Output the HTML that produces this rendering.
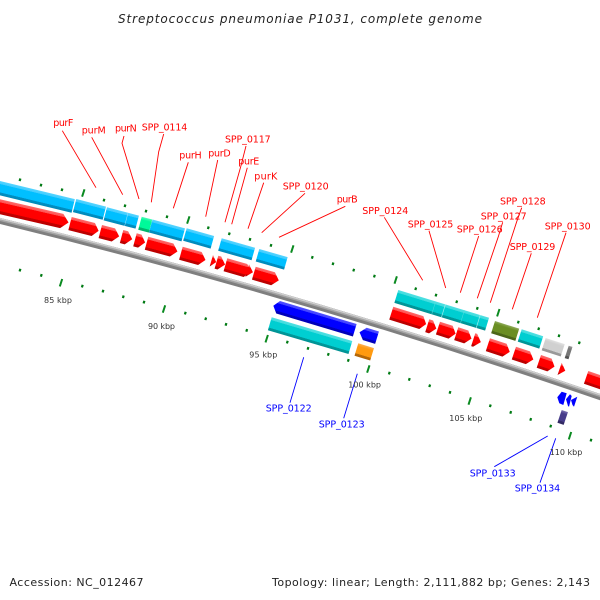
<!DOCTYPE html>
<html><head><meta charset="utf-8"><title>Streptococcus pneumoniae P1031</title>
<style>
html,body{margin:0;padding:0;background:#fff;width:600px;height:600px;overflow:hidden}
svg{display:block}
text{font-family:"DejaVu Sans","Liberation Sans",sans-serif}
.r text{fill:#f00;font-size:9.5px}
.b text{fill:#00f;font-size:9.5px}
.k text{fill:#333;font-size:8px}
.t text{fill:#222;font-size:11px}
</style></head><body>
<svg width="600" height="600" viewBox="0 0 600 600" xmlns="http://www.w3.org/2000/svg">
<defs>
<linearGradient id="red" x1="0" y1="0" x2="0" y2="1"><stop offset="0" stop-color="#ff6a6a"/><stop offset=".2" stop-color="#ff5050"/><stop offset=".22" stop-color="#f00"/><stop offset=".78" stop-color="#f00"/><stop offset=".8" stop-color="#c40000"/><stop offset="1" stop-color="#b80000"/></linearGradient>
<linearGradient id="sky" x1="0" y1="0" x2="0" y2="1"><stop offset="0" stop-color="#55d4ff"/><stop offset=".2" stop-color="#40ccff"/><stop offset=".22" stop-color="#00bfff"/><stop offset=".78" stop-color="#00bfff"/><stop offset=".8" stop-color="#0090c4"/><stop offset="1" stop-color="#0088b8"/></linearGradient>
<linearGradient id="cya" x1="0" y1="0" x2="0" y2="1"><stop offset="0" stop-color="#4fe0e2"/><stop offset=".2" stop-color="#40dcde"/><stop offset=".22" stop-color="#00ced1"/><stop offset=".78" stop-color="#00ced1"/><stop offset=".8" stop-color="#009a9c"/><stop offset="1" stop-color="#009092"/></linearGradient>
<linearGradient id="blu" x1="0" y1="0" x2="0" y2="1"><stop offset="0" stop-color="#5050ff"/><stop offset=".2" stop-color="#4040ff"/><stop offset=".22" stop-color="#00f"/><stop offset=".78" stop-color="#00f"/><stop offset=".8" stop-color="#0000c0"/><stop offset="1" stop-color="#0000b4"/></linearGradient>
<linearGradient id="grn" x1="0" y1="0" x2="0" y2="1"><stop offset="0" stop-color="#50fcb8"/><stop offset=".22" stop-color="#00fa9a"/><stop offset=".78" stop-color="#00fa9a"/><stop offset=".8" stop-color="#00b870"/><stop offset="1" stop-color="#00b068"/></linearGradient>
<linearGradient id="oli" x1="0" y1="0" x2="0" y2="1"><stop offset="0" stop-color="#90ac5c"/><stop offset=".22" stop-color="#6b8e23"/><stop offset=".78" stop-color="#6b8e23"/><stop offset=".8" stop-color="#4f6a1a"/><stop offset="1" stop-color="#4a6318"/></linearGradient>
<linearGradient id="org" x1="0" y1="0" x2="0" y2="1"><stop offset="0" stop-color="#ffb050"/><stop offset=".22" stop-color="#ff9a10"/><stop offset=".78" stop-color="#ff9a10"/><stop offset=".8" stop-color="#b86a08"/><stop offset="1" stop-color="#b06408"/></linearGradient>
<linearGradient id="lgr" x1="0" y1="0" x2="0" y2="1"><stop offset="0" stop-color="#e2e2e2"/><stop offset=".22" stop-color="#d0d0d0"/><stop offset=".78" stop-color="#d0d0d0"/><stop offset=".8" stop-color="#9c9c9c"/><stop offset="1" stop-color="#969696"/></linearGradient>
<linearGradient id="dgr" x1="0" y1="0" x2="0" y2="1"><stop offset="0" stop-color="#999"/><stop offset=".22" stop-color="#777"/><stop offset=".78" stop-color="#777"/><stop offset=".8" stop-color="#555"/><stop offset="1" stop-color="#505050"/></linearGradient>
<linearGradient id="pur" x1="0" y1="0" x2="0" y2="1"><stop offset="0" stop-color="#7a70b0"/><stop offset=".22" stop-color="#483d8b"/><stop offset=".78" stop-color="#483d8b"/><stop offset=".8" stop-color="#352c68"/><stop offset="1" stop-color="#302860"/></linearGradient>
</defs>

<!-- backbone -->
<path d="M-10 218.5Q300 293.7 610 400.5" fill="none" stroke="#7f7f7f" stroke-width="6"/>
<path d="M-10 217Q300 292.2 610 399" fill="none" stroke="#a5a5a5" stroke-width="3"/>
<path d="M-10 216.2Q300 291.4 610 398.2" fill="none" stroke="#cfcfcf" stroke-width="1.4"/>

<!-- ticks -->
<path fill="none" stroke="#007a14" stroke-width="2.2" d="M20.4 178.5l-.8 2.6M41.4 183.8l-.8 2.6M62.4 188.5l-.8 2.6M104.4 198.8l-.8 2.6M125.4 204.5l-.8 2.6M146.4 209.8l-.8 2.6M167.4 215.5l-.8 2.6M208.7 226.5l-.8 2.6M229.7 232.5l-.8 2.6M250.4 238.1l-.8 2.6M271.4 244.1l-.8 2.6M312.7 256.1l-.8 2.6M333.4 262.5l-.8 2.6M354.1 268.8l-.8 2.6M374.8 274.8l-.8 2.6M416.1 287.5l-.8 2.6M436.4 293.8l-.8 2.6M457.1 300.5l-.8 2.6M477.7 307.1l-.8 2.6M518.7 320.8l-.8 2.6M539.1 327.5l-.8 2.6M559.4 334.5l-.8 2.6M579.7 341.5l-.8 2.6M20.4 268.8l-.8 2.6M41.7 274.1l-.8 2.6M82.7 284.8l-.8 2.6M103.4 289.8l-.8 2.6M123.7 295.5l-.8 2.6M144.4 300.8l-.8 2.6M185.7 311.8l-.8 2.6M206.1 317.5l-.8 2.6M226.4 323.1l-.8 2.6M247.1 329.1l-.8 2.6M287.7 340.8l-.8 2.6M308.4 347.1l-.8 2.6M328.7 353.1l-.8 2.6M348.7 359.1l-.8 2.6M389.7 371.8l-.8 2.6M409.7 378.1l-.8 2.6M430.1 384.5l-.8 2.6M450.4 391.1l-.8 2.6M490.7 404.5l-.8 2.6M511.1 411.1l-.8 2.6M531.1 418.1l-.8 2.6M551.1 424.8l-.8 2.6M591.4 438.8l-.8 2.6"/>
<path fill="none" stroke="#0a8a20" stroke-width="2" d="M84.5 189.3l-2.4 7.4M189.5 216.3l-2.4 7.4M293.5 245.3l-2.4 7.4M396.9 276.3l-2.4 7.4M499.5 309l-2.4 7.4M62.2 279l-2.4 7.4M165.2 305.3l-2.4 7.4M267.9 335l-2.4 7.4M369.5 365.3l-2.4 7.4M470.9 397.3l-2.4 7.4M571.2 432l-2.4 7.4"/>

<!-- sky-blue row -->
<g transform="translate(-10 178.6) rotate(13.6)"><rect width="87.3" height="14" fill="url(#sky)"/></g>
<g transform="translate(76.3 199) rotate(14.5)"><rect width="30.7" height="13.5" fill="url(#sky)"/></g>
<g transform="translate(107 207.3) rotate(14.6)"><rect width="33" height="13.5" fill="url(#sky)"/><rect x="21.5" width=".5" height="13.5" fill="#9fe4ff"/></g>
<g transform="translate(141.7 216.7) rotate(15)"><rect width="11" height="13.5" fill="url(#grn)"/></g>
<g transform="translate(152.5 219.5) rotate(15.2)"><rect width="33.7" height="13.5" fill="url(#sky)"/></g>
<g transform="translate(186.7 228.3) rotate(15.8)"><rect width="28.5" height="13" fill="url(#sky)"/></g>
<g transform="translate(221.7 238.3) rotate(15.8)"><rect width="34.7" height="13" fill="url(#sky)"/></g>
<g transform="translate(259.3 249) rotate(16)"><rect width="29.5" height="13" fill="url(#sky)"/></g>

<!-- red row left -->
<g fill="url(#red)">
<polygon transform="translate(-10 196.9) rotate(13)" points="0,0 75.3,0 82.3,7.3 75.3,14.6 0,14.6"/>
<polygon transform="translate(71.7 217) rotate(14.4)" points="0,0 24,0 29.5,6.7 24,13.5 0,13.5"/>
<polygon transform="translate(102 225) rotate(14.6)" points="0,0 13.5,0 19.5,6.7 13.5,13.5 0,13.5"/>
<polygon transform="translate(123.3 230) rotate(14.8)" points="0,0 5,0 11,6.7 5,13.5 0,13.5"/>
<polygon transform="translate(136.7 233.3) rotate(15)" points="0,0 5,0 10.5,6.7 5,13.5 0,13.5"/>
<polygon transform="translate(148.3 236.7) rotate(15.1)" points="0,0 26,0 32,6.7 26,13.5 0,13.5"/>
<polygon transform="translate(182.7 246.7) rotate(15.5)" points="0,0 19.7,0 25.5,6.7 19.7,13.5 0,13.5"/>
<polygon transform="translate(213 255) rotate(16)" points="0,0 5,6 0,12"/>
<polygon transform="translate(218.3 255.7) rotate(16)" points="0,0 3,0 9,6.7 3,13.5 0,13.5"/>
<polygon transform="translate(227.3 258.3) rotate(16)" points="0,0 20.8,0 26.5,6.7 20.8,13.5 0,13.5"/>
<polygon transform="translate(249 264.3) rotate(16)" points="0,0 6,6.5 0,13"/>
<polygon transform="translate(255.7 266.7) rotate(16.2)" points="0,0 20,0 26,6.7 20,13.5 0,13.5"/>
</g>

<!-- lower strand left -->
<polygon transform="translate(280 301) rotate(16.7)" fill="url(#blu)" points="0,0 80,0 80,13 0,13 -5,6.5"/>
<polygon transform="translate(366.7 327.7) rotate(17)" fill="url(#blu)" points="0,0 12.8,0 12.8,13 0,13 -5.5,6.5"/>
<polygon transform="translate(271.7 317.3) rotate(16.4)" fill="url(#cya)" points="0,0 84,0 84,13.5 0,13.5"/>
<polygon transform="translate(358.3 343.3) rotate(17)" fill="url(#org)" points="0,0 16.4,0 16.4,13 0,13"/>

<!-- right cluster upper -->
<g transform="translate(398.3 290) rotate(17)"><rect width="94.9" height="13.5" fill="url(#cya)"/><rect x="38.8" width=".5" height="13.5" fill="#55dcde"/><rect x="48.9" width=".7" height="13.5" fill="#9eeeee"/><rect x="68.9" width=".5" height="13.5" fill="#55dcde"/><rect x="85.3" width=".7" height="13.5" fill="#9eeeee"/></g>
<polygon transform="translate(495 321) rotate(17.6)" fill="url(#oli)" points="0,0 25.4,0 25.4,12.8 0,12.8"/>
<polygon transform="translate(521.7 329.3) rotate(17.8)" fill="url(#cya)" points="0,0 22.6,0 22.6,13 0,13"/>
<polygon transform="translate(545.7 338) rotate(18)" fill="url(#lgr)" points="0,0 20,0 20,13 0,13"/>
<polygon transform="translate(568.7 345.7) rotate(18)" fill="url(#dgr)" points="0,0 4,0 4,13 0,13"/>

<!-- red row right -->
<g fill="url(#red)">
<polygon transform="translate(393.3 306.7) rotate(17.5)" points="0,0 31.5,0 36.5,6.7 31.5,13.5 0,13.5"/>
<polygon transform="translate(429.3 319.3) rotate(17.7)" points="0,0 4,0 9.5,6.7 4,13.5 0,13.5"/>
<polygon transform="translate(440 321.7) rotate(17.7)" points="0,0 13.3,0 18.5,6.7 13.3,13.5 0,13.5"/>
<polygon transform="translate(458.3 327.3) rotate(17.8)" points="0,0 10.5,0 16,6.7 10.5,13.5 0,13.5"/>
<polygon transform="translate(475.3 333.3) rotate(18)" points="0,0 2,0 8,6.7 2,13.5 0,13.5"/>
<polygon transform="translate(490 338.3) rotate(18.2)" points="0,0 17.5,0 23,6.7 17.5,13.5 0,13.5"/>
<polygon transform="translate(516 346.7) rotate(18.4)" points="0,0 14.8,0 20.5,6.7 14.8,13.5 0,13.5"/>
<polygon transform="translate(541 355) rotate(18.6)" points="0,0 11.2,0 16.5,6.7 11.2,13.5 0,13.5"/>
<polygon transform="translate(561.7 362.7) rotate(18.8)" points="0,0 6,6.5 0,13"/>
<polygon transform="translate(588.3 371) rotate(19)" points="0,0 20,0 26,6.7 20,13.5 0,13.5"/>
</g>

<!-- small lower right -->
<polygon fill="#00f" points="557.3,397.3 561.7,391.7 566.7,393.3 563.3,405 559.3,403.3"/>
<polygon fill="#00f" points="566,399.3 570,394.3 571.7,396 569,406.7 568,406"/>
<polygon fill="#00f" points="571,400 577.3,396.7 574,406.7 572.5,405"/>
<polygon transform="translate(561.7 410) rotate(18.5)" fill="url(#pur)" points="0,0 6.6,0 6.6,13.5 0,13.5"/>

<!-- red leaders -->
<path fill="none" stroke="#f00" stroke-width=".9" d="M62.3 130.7L96 187.7M91.7 137.3L122.7 194.7M124 136L122 143.3L139 199M163.7 134L158.7 151.7L151.3 202.3M188.3 162.3L173.3 208.3M217.7 160L205.7 216.7M246 146L240.7 166.7L225 222.3M247.3 167.7L231.7 224.3M263.7 182.7L248 228.7M305 193.3L261.7 232.7M345.3 206.3L279 237.3M384.3 217.3L422.7 280.3M429 230.7L445.7 288M478.7 236L460.3 292.7M502.7 222.3L498.3 236.7L477.3 298.3M521.7 207.7L516.7 221.7L490.3 302.7M531.3 253.3L512.3 309.3M566 232.7L537.3 317.7"/>
<!-- blue leaders -->
<path fill="none" stroke="#00f" stroke-width=".9" d="M303.7 357.3L290 402.7M357.3 373.7L343.7 418.3M547.7 436L494.3 466.7M555.7 438.3L540 482.7"/>

<!-- labels -->
<g class="r">
<text x="53.3" y="126" textLength="20">purF</text>
<text x="81.7" y="133.3" textLength="24">purM</text>
<text x="115" y="131.7" textLength="21.7">purN</text>
<text x="141.7" y="130.7" textLength="45.6">SPP_0114</text>
<text x="179.3" y="158.3" textLength="22.4">purH</text>
<text x="208.3" y="156.7" textLength="22.4">purD</text>
<text x="225" y="142.7" textLength="45.7">SPP_0117</text>
<text x="238.3" y="164.3" textLength="21">purE</text>
<text x="254.3" y="179.3" textLength="23">purK</text>
<text x="282.7" y="189.3" textLength="46">SPP_0120</text>
<text x="336.7" y="202.3" textLength="21">purB</text>
<text x="362.3" y="214" textLength="46">SPP_0124</text>
<text x="407.7" y="227.7" textLength="45.6">SPP_0125</text>
<text x="456.7" y="232.7" textLength="46">SPP_0126</text>
<text x="480.7" y="219.3" textLength="46">SPP_0127</text>
<text x="500" y="204.3" textLength="45.7">SPP_0128</text>
<text x="509.7" y="250" textLength="45.6">SPP_0129</text>
<text x="544.7" y="229.3" textLength="46">SPP_0130</text>
</g>
<g class="b">
<text x="265.7" y="411.7" textLength="46">SPP_0122</text>
<text x="318.7" y="427.7" textLength="46">SPP_0123</text>
<text x="469.7" y="476.7" textLength="46">SPP_0133</text>
<text x="514.7" y="491.7" textLength="45.5">SPP_0134</text>
</g>
<g class="k">
<text x="44" y="303" textLength="28">85 kbp</text>
<text x="148" y="329" textLength="27">90 kbp</text>
<text x="249.3" y="357.7" textLength="28">95 kbp</text>
<text x="348.3" y="387.7" textLength="32.7">100 kbp</text>
<text x="449.3" y="421" textLength="33">105 kbp</text>
<text x="549.7" y="455" textLength="32.6">110 kbp</text>
</g>
<g class="t">
<text x="118" y="23" textLength="364" font-style="italic" style="font-size:12px">Streptococcus pneumoniae P1031, complete genome</text>
<text x="9.5" y="586" textLength="134">Accession: NC_012467</text>
<text x="272" y="586" textLength="318">Topology: linear; Length: 2,111,882 bp; Genes: 2,143</text>
</g>
</svg>
</body></html>
